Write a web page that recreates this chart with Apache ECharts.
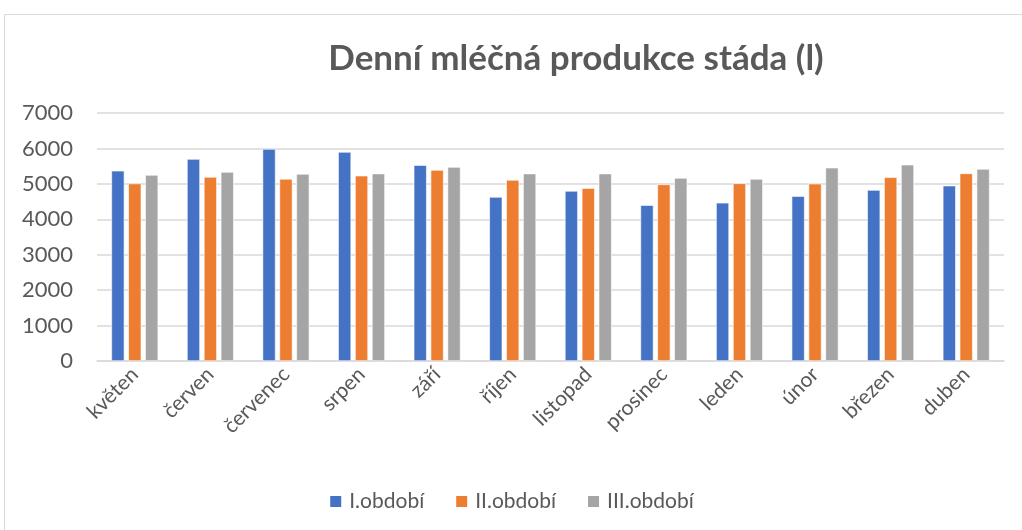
<!DOCTYPE html>
<html><head><meta charset="utf-8">
<script src="https://cdn.jsdelivr.net/npm/echarts@6/dist/echarts.min.js"></script>
<style>html,body{margin:0;padding:0;background:#fff}#c{width:1022px;height:530px}</style>
</head><body><div id="c"></div>
<script>
const categories = ["květen","červen","červenec","srpen","září","říjen","listopad","prosinec","leden","únor","březen","duben"];
const seriesNames = ["I.období","II.období","III.období"];
const period1 = [5370,5700,5985,5900,5530,4630,4800,4400,4465,4655,4825,4950];
const period2 = [5010,5195,5140,5230,5390,5110,4880,4985,5015,5005,5185,5295];
const period3 = [5250,5335,5280,5290,5475,5290,5290,5165,5140,5455,5540,5420];
const yTicks = {min:0, max:7000, interval:1000};
const colors = ["#4472C4","#ED7D31","#A5A5A5"];
const font = "Lato, 'Open Sans', sans-serif";
const chart = echarts.init(document.getElementById('c'));
const data = [period1, period2, period3];
chart.setOption({
  animation:false,
  title:{text:"Denní mléčná produkce stáda (l)", left:571, textAlign:'center', top:36,
    textStyle:{fontFamily:font, fontSize:35, fontWeight:'bold', color:'#595959'}},
  graphic:[{type:'rect', shape:{x:4.5,y:14.5,width:1030,height:530}, style:{fill:'none', stroke:'#d9d9d9', lineWidth:1}, silent:true}],
  legend:{top:486, left:'center', itemWidth:13, itemHeight:13, itemGap:30,
    icon:'rect', textStyle:{fontFamily:font, fontSize:21, color:'#595959', padding:[0,0,0,2]}, data:seriesNames},
  grid:{left:97, right:18, top:113, bottom:169, containLabel:false},
  xAxis:{type:'category', data:categories,
    axisLine:{lineStyle:{color:'#d9d9d9', width:1.5}}, axisTick:{show:false},
    axisLabel:{rotate:45, fontFamily:font, fontSize:21, color:'#595959', margin:10, interval:0}},
  yAxis:{type:'value', min:yTicks.min, max:yTicks.max, interval:yTicks.interval,
    axisLine:{show:false}, axisTick:{show:false},
    splitLine:{lineStyle:{color:'#d9d9d9', width:1.5}},
    axisLabel:{fontFamily:font, fontSize:22, color:'#595959', margin:24, formatter:v=>String(v)}},
  series: seriesNames.map((n,i)=>({name:n, type:'bar', data:data[i], barWidth:13, barGap:'30%',
    itemStyle:{color:colors[i], borderColor:'#ffffff', borderWidth:0.6}}))
});
</script></body></html>
